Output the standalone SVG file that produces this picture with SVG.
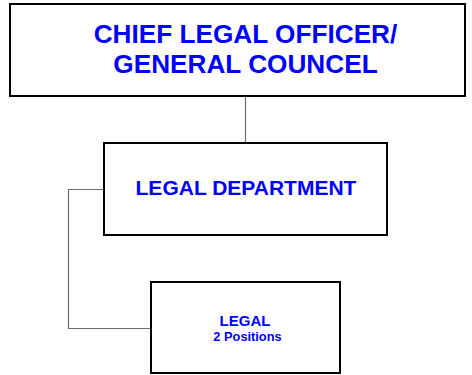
<svg xmlns="http://www.w3.org/2000/svg" width="472" height="375" viewBox="0 0 472 375">
<style>
.box{fill:#fff;stroke:#000;stroke-width:2}
.t{font-family:"Liberation Sans",Arial,sans-serif;font-weight:bold;fill:#0000ff;text-anchor:middle}
.c{fill:none;stroke:#756675;stroke-width:1.2}
</style>
<rect width="472" height="375" fill="#fff"/>
<g id="connectors">
<line class="c" x1="245.5" y1="97" x2="245.5" y2="143"/>
<polyline class="c" points="104,189.5 68.5,189.5 68.5,328.5 151,328.5"/>
</g>
<g id="cfo">
<rect class="box" x="10" y="4" width="455" height="92"/>
<text class="t" x="245.5" y="42.5" font-size="26.2">CHIEF LEGAL OFFICER/</text>
<text class="t" x="245.5" y="72.5" font-size="26.2">GENERAL COUNCEL</text>
</g>
<g id="legal-dept">
<rect class="box" x="104" y="143" width="283" height="92"/>
<text class="t" x="246" y="195" font-size="21">LEGAL DEPARTMENT</text>
</g>
<g id="legal">
<rect class="box" x="151" y="282" width="189" height="91"/>
<text class="t" x="245" y="326" font-size="15">LEGAL</text>
<text class="t" x="247.5" y="341" font-size="12.8">2 Positions</text>
</g>
</svg>
